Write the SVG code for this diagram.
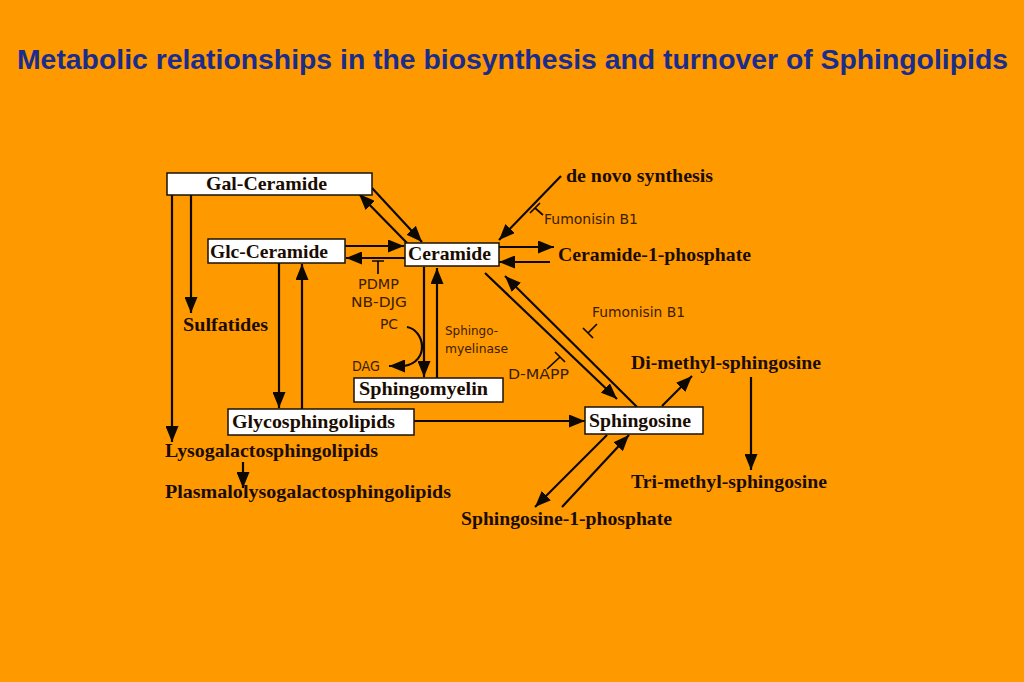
<svg xmlns="http://www.w3.org/2000/svg" width="1024" height="682" viewBox="0 0 1024 682">
<style>
.bg{fill:#FF9900}
.title{font-family:"Liberation Sans",Arial,sans-serif;font-weight:bold;font-size:28px;fill:#1A2C8C}
.box{fill:#FFFFFF;stroke:#1a1000;stroke-width:1.5}
.lbl{font-family:"Liberation Serif","Times New Roman",serif;font-weight:bold;font-size:19.5px;fill:#1a0c00}
.sm{font-family:"DejaVu Sans",Verdana,sans-serif;font-size:14px;fill:#3a2000}
.sm2{font-family:"DejaVu Sans",Verdana,sans-serif;font-size:13px;fill:#3a2000}
.arr{fill:none;stroke:#0d0800;stroke-width:2.2;marker-end:url(#ah)}
.inh{fill:none;stroke:#0d0800;stroke-width:1.7}
</style>
<defs>
<marker id="ah" viewBox="0 0 16 13" refX="16" refY="6.5" markerWidth="16" markerHeight="13" markerUnits="userSpaceOnUse" orient="auto">
<path d="M0,0 L16,6.5 L0,13 z" fill="#0d0800"/>
</marker>
</defs>
<rect class="bg" x="0" y="0" width="1024" height="682"/>
<text id="title" class="title" x="17" y="69" textLength="991" lengthAdjust="spacingAndGlyphs">Metabolic relationships in the biosynthesis and turnover of Sphingolipids</text>

<g id="connectors">
<line class="arr" x1="372" y1="188" x2="422" y2="242"/>
<line class="arr" x1="407" y1="243" x2="359" y2="194"/>
<line class="arr" x1="345" y1="246" x2="404" y2="246"/>
<line class="arr" x1="405" y1="258" x2="346" y2="258"/>
<line class="arr" x1="561" y1="176" x2="499" y2="240"/>
<line class="arr" x1="499" y1="247" x2="554" y2="247"/>
<line class="arr" x1="550" y1="262" x2="499" y2="262"/>
<line class="arr" x1="485" y1="273" x2="617" y2="399"/>
<line class="arr" x1="637" y1="407" x2="505" y2="276"/>
<line class="arr" x1="424" y1="267" x2="424" y2="377"/>
<line class="arr" x1="437" y1="378" x2="437" y2="268"/>
<path class="arr" d="M407,327 C425,330 430,362 404,366 L389,366"/>
<line class="arr" x1="414" y1="421" x2="585" y2="421"/>
<line class="arr" x1="191" y1="195" x2="191" y2="313"/>
<line class="arr" x1="172" y1="195" x2="172" y2="442"/>
<line class="arr" x1="279" y1="263" x2="279" y2="408"/>
<line class="arr" x1="302" y1="409" x2="302" y2="264"/>
<line class="arr" x1="243" y1="462" x2="243" y2="488"/>
<line class="arr" x1="607" y1="435" x2="535" y2="507"/>
<line class="arr" x1="562" y1="507" x2="629" y2="435"/>
<line class="arr" x1="662" y1="406" x2="692" y2="376"/>
<line class="arr" x1="751" y1="377" x2="751" y2="470"/>
<path class="inh" d="M372,261 L384,261 M378,261 L378,274"/>
<path class="inh" d="M530,213 L540,203 M535,208 L543,215"/>
<path class="inh" d="M583,328 L593,338 M588,333 L597,324"/>
<path class="inh" d="M555,352 L565,362 M560,357 L547,369"/>
</g>

<g id="gal-ceramide"><rect class="box" x="167" y="173" width="205" height="22"/><text class="lbl" x="206" y="190" textLength="121" lengthAdjust="spacingAndGlyphs">Gal-Ceramide</text></g>
<g id="glc-ceramide"><rect class="box" x="208" y="239" width="137" height="24"/><text class="lbl" x="210" y="258" textLength="118" lengthAdjust="spacingAndGlyphs">Glc-Ceramide</text></g>
<g id="ceramide"><rect class="box" x="405" y="243" width="94" height="23"/><text class="lbl" x="408" y="260" textLength="83" lengthAdjust="spacingAndGlyphs">Ceramide</text></g>
<g id="sphingomyelin"><rect class="box" x="354" y="378" width="149" height="24"/><text class="lbl" x="359" y="395" textLength="129" lengthAdjust="spacingAndGlyphs">Sphingomyelin</text></g>
<g id="glycosphingolipids"><rect class="box" x="228" y="409" width="186" height="26"/><text class="lbl" x="232" y="428" textLength="163" lengthAdjust="spacingAndGlyphs">Glycosphingolipids</text></g>
<g id="sphingosine"><rect class="box" x="585" y="407" width="118" height="27"/><text class="lbl" x="589" y="427" textLength="102" lengthAdjust="spacingAndGlyphs">Sphingosine</text></g>

<g id="de-novo"><text class="lbl" x="566" y="182" textLength="147" lengthAdjust="spacingAndGlyphs">de novo synthesis</text></g>
<g id="c1p"><text class="lbl" x="558" y="261" textLength="193" lengthAdjust="spacingAndGlyphs">Ceramide-1-phosphate</text></g>
<g id="sulfatides"><text class="lbl" x="183" y="331" textLength="85" lengthAdjust="spacingAndGlyphs">Sulfatides</text></g>
<g id="lyso"><text class="lbl" x="165" y="457" textLength="213" lengthAdjust="spacingAndGlyphs">Lysogalactosphingolipids</text></g>
<g id="plasmalo"><text class="lbl" x="165" y="498" textLength="286" lengthAdjust="spacingAndGlyphs">Plasmalolysogalactosphingolipids</text></g>
<g id="s1p"><text class="lbl" x="461" y="525" textLength="211" lengthAdjust="spacingAndGlyphs">Sphingosine-1-phosphate</text></g>
<g id="dimethyl"><text class="lbl" x="631" y="369" textLength="190" lengthAdjust="spacingAndGlyphs">Di-methyl-sphingosine</text></g>
<g id="trimethyl"><text class="lbl" x="631" y="488" textLength="196" lengthAdjust="spacingAndGlyphs">Tri-methyl-sphingosine</text></g>

<g id="small-labels">
<text class="sm" x="544" y="224" textLength="94" lengthAdjust="spacingAndGlyphs">Fumonisin  B1</text>
<text class="sm" x="358" y="289" textLength="41" lengthAdjust="spacingAndGlyphs">PDMP</text>
<text class="sm" x="351" y="307" textLength="56" lengthAdjust="spacingAndGlyphs">NB-DJG</text>
<text class="sm" x="380" y="329" textLength="18" lengthAdjust="spacingAndGlyphs">PC</text>
<text class="sm" x="352" y="371" textLength="28" lengthAdjust="spacingAndGlyphs">DAG</text>
<text class="sm2" x="445" y="335" textLength="53" lengthAdjust="spacingAndGlyphs">Sphingo-</text>
<text class="sm2" x="445" y="353" textLength="63" lengthAdjust="spacingAndGlyphs">myelinase</text>
<text class="sm" x="592" y="317" textLength="93" lengthAdjust="spacingAndGlyphs">Fumonisin  B1</text>
<text class="sm" x="508" y="379" textLength="61" lengthAdjust="spacingAndGlyphs">D-MAPP</text>
</g>
</svg>
